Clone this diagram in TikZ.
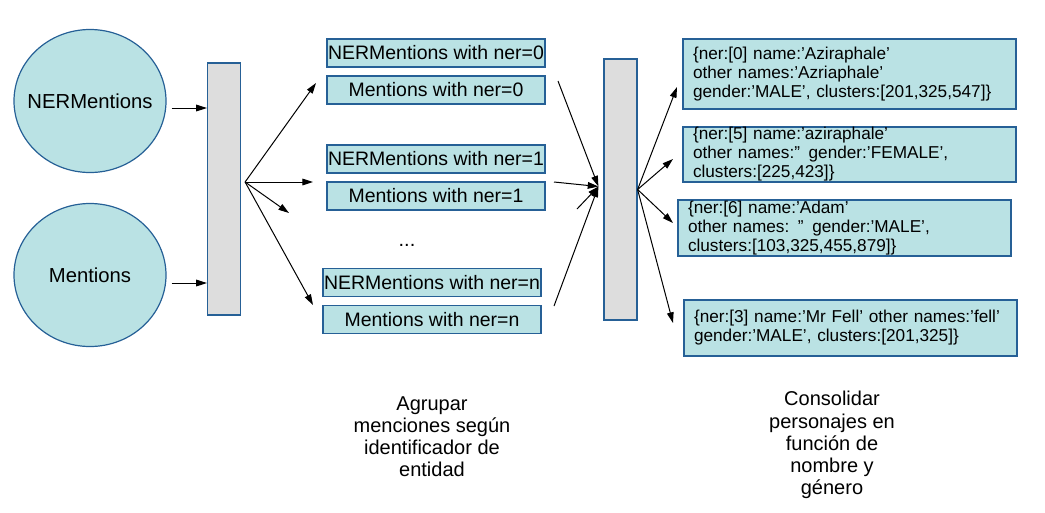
\documentclass[tikz,border=0pt]{standalone}
\usepackage{fontspec}
\setmainfont{Liberation Sans}
\usetikzlibrary{arrows.meta,shapes.geometric}
\definecolor{boxfill}{RGB}{186,226,228}
\definecolor{boxline}{RGB}{38,96,150}
\definecolor{barfill}{RGB}{221,221,221}
\begin{document}
\begin{tikzpicture}[x=0.75pt,y=-0.75pt,
  circ/.style={ellipse, draw=boxline, fill=boxfill, line width=0.9pt,
    minimum width=152*0.75pt, minimum height=143*0.75pt, inner sep=0pt},
  circtext/.style={font=\fontsize{15.2}{17}\selectfont, inner sep=0pt},
  bar/.style={draw=boxline, fill=barfill, line width=0.9pt,
    minimum width=33*0.75pt, inner sep=0pt},
  mbox/.style={draw=boxline, fill=boxfill, line width=1.3pt,
    minimum width=218*0.75pt, minimum height=28*0.75pt, inner sep=0pt,
    font=\fontsize{14.6}{16}\selectfont},
  jbox/.style={draw=boxline, fill=boxfill, line width=1.3pt,
    text width=313*0.75pt, inner xsep=10*0.75pt, inner ysep=0pt, align=left,
    font=\fontsize{12.9}{14.25}\selectfont},
  lbl/.style={align=center, inner sep=0pt, font=\fontsize{15}{16.6}\selectfont},
  arr/.style={-{Triangle[length=8pt,width=5pt]}, line width=0.75pt, black}]
\useasboundingbox (0,0) rectangle (1045,512);

% left circles and first bar
\node[circ] (c1) at (90,101) {};
\node[circtext] (c1t) at (c1.center) {NERMentions};
\node[circ] (c2) at (90,275) {};
\node[circtext] (c2t) at (c2.center) {Mentions};
\node[bar, minimum height=252*0.75pt] (b1) at (224,189) {};

\coordinate (a1) at ([shift={(5,7)}]c1.east);
\coordinate (a2) at ([shift={(5,8)}]c2.east);
\draw[arr] (a1) -- (a1 -| b1.west);
\draw[arr] (a2) -- (a2 -| b1.west);

% grouped boxes
\node[mbox] (n0) at (436,53) {NERMentions with ner=0};
\node[mbox] (m0) at (436,90) {Mentions with ner=0};
\node[mbox] (n1) at (436,159) {NERMentions with ner=1};
\node[mbox] (m1) at (436,196) {Mentions with ner=1};
\node[lbl, anchor=base] (dots) at (407,246) {...};
\node[mbox] (nn) at (432,282.5) {NERMentions with ner=n};
\node[mbox] (mn) at (432,319.5) {Mentions with ner=n};

% fan out of first bar
\coordinate (f1) at ([shift={(4,-7)}]b1.east);
\coordinate (t11) at (316,83);
\coordinate (t12) at (313,182);
\coordinate (t13) at (289,213);
\coordinate (t14) at (313,305);
\foreach \t in {t11,t12,t13,t14} \draw[arr] (f1) -- (\t);

% second bar
\node[bar, minimum height=261*0.75pt] (b2) at (620.5,189.5) {};
\coordinate (f2) at ([shift={(-5,-3)}]b2.west);
\coordinate (s1) at (558,81);
\coordinate (s2) at (554,182);
\coordinate (s3) at (577,209);
\coordinate (s4) at (554,306);
\foreach \s in {s1,s2,s3,s4} \draw[arr] (\s) -- (f2);

% result boxes
\node[jbox, minimum height=70*0.75pt] (j1) at (849.5,74)
  {\{ner:[0] name:’Aziraphale’\\other names:’Azriaphale’\\gender:’MALE’, clusters:[201,325,547]\}};
\node[jbox, minimum height=55*0.75pt] (j2) at (849.5,154.5)
  {\{ner:[5] name:’aziraphale’\\other names:” gender:’FEMALE’,\\clusters:[225,423]\}};
\node[jbox, minimum height=56*0.75pt] (j3) at (844.5,228)
  {\{ner:[6] name:’Adam’\\other names: ” gender:’MALE’,\\clusters:[103,325,455,879]\}};
\node[jbox, minimum height=56*0.75pt] (j4) at (850.5,328)
  {\{ner:[3] name:’Mr Fell’ other names:’fell’\\gender:’MALE’, clusters:[201,325]\}};

% fan out of second bar
\coordinate (f3) at (b2.east);
\coordinate (t21) at (677,87);
\coordinate (t22) at (673,159);
\coordinate (t23) at (673,223);
\coordinate (t24) at (673,323);
\foreach \t in {t21,t22,t23,t24} \draw[arr] (f3) -- (\t);

% captions
\node[lbl] (cap1) at (432,436.5) {Agrupar\\menciones según\\identificador de\\entidad};
\node[lbl] (cap2) at (832,445) {Consolidar\\personajes en\\función de\\nombre y\\género};
\end{tikzpicture}
\end{document}
